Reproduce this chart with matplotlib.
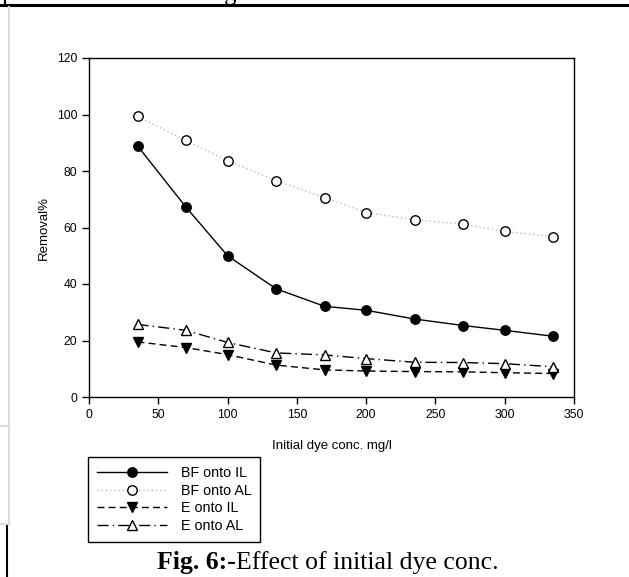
import matplotlib
matplotlib.use("Agg")
import matplotlib.pyplot as plt
from matplotlib.lines import Line2D

# initial dye concentration (mg/l)
conc = [35, 70, 100, 135, 170, 200, 235, 270, 300, 335]

# removal % for each system
bf_il = [88.9, 67.2, 50.0, 38.3, 32.1, 30.7, 27.6, 25.3, 23.6, 21.5]
bf_al = [99.3, 90.8, 83.6, 76.6, 70.6, 65.3, 62.7, 61.2, 58.6, 56.8]
e_il = [19.5, 17.5, 15.0, 11.3, 9.6, 9.2, 9.0, 8.9, 8.6, 8.3]
e_al = [25.7, 23.6, 19.3, 15.6, 14.9, 13.6, 12.3, 12.2, 11.8, 10.7]

labels = ["BF onto IL", "BF onto AL", "E onto IL", "E onto AL"]

W, H = 629, 577
plt.rcParams['font.family'] = ['Liberation Sans', 'DejaVu Sans']

fig = plt.figure(figsize=(W / 100, H / 100), dpi=100)
ax = fig.add_axes([89 / W, 1 - 397 / H, (574 - 89) / W, (397 - 58) / H])

ms = 6.8
ax.plot(conc, bf_il, color="black", lw=1, ls="-", marker="o", ms=ms,
        mfc="black", mec="black", label=labels[0])
ax.plot(conc, bf_al, color="#bbbbbb", lw=1, ls=(0, (1, 2)), marker="o", ms=ms,
        mfc="white", mec="black", mew=1, label=labels[1])
ax.plot(conc, e_il, color="black", lw=1, ls=(0, (5, 3)), marker="v", ms=ms,
        mfc="black", mec="black", label=labels[2])
ax.plot(conc, e_al, color="black", lw=1, ls=(0, (8, 3, 1, 3)), marker="^", ms=ms,
        mfc="white", mec="black", mew=1, label=labels[3])

ax.set_xlim(0, 350)
ax.set_ylim(0, 120)
ax.set_xticks(range(0, 351, 50))
ax.set_yticks(range(0, 121, 20))
ax.tick_params(direction="out", length=5, width=1, labelsize=8.8, top=False, right=False)
for s in ax.spines.values():
    s.set_linewidth(1)
ax.set_xlabel("Initial dye conc. mg/l", fontsize=9.5, labelpad=14)
ax.set_ylabel("Removal%", fontsize=9.5, labelpad=5)

fig.legend(loc="upper left", bbox_to_anchor=(88 / W, 1 - 457 / H), fontsize=10.3,
           frameon=True, fancybox=False, edgecolor="black", framealpha=1,
           handlelength=4.9, handletextpad=0.95, labelspacing=0.26, borderpad=0.62,
           borderaxespad=0, numpoints=1)

# caption under the chart
cap_y = 1 - 563 / H
t1 = fig.text(157 / W, cap_y, "Fig. 6:-", fontsize=18.5, fontweight="bold",
              family="Liberation Serif", va="center", ha="left")
fig.canvas.draw()
bb = t1.get_window_extent(fig.canvas.get_renderer())
fig.text(bb.x1 / W, cap_y, "Effect of initial dye conc.", fontsize=18.5,
         family="Liberation Serif", va="center", ha="left")

# page frame pieces around the figure
def pline(xs, ys, color="black", lw=2.0):
    fig.add_artist(Line2D([x / W for x in xs], [1 - y / H for y in ys],
                          color=color, lw=lw, transform=fig.transFigure))

pline([0, W], [5, 5], lw=2.2)
pline([5, 5], [0, 5], lw=1.5)
pline([7, 7], [525, H], lw=1.5)
pline([9, 9], [7, 524], color="#dcdcdc", lw=1.5)
pline([0, 9], [426, 426], color="#dcdcdc", lw=1.5)
pline([0, 9], [524, 524], color="#dcdcdc", lw=1.5)
fig.text(230 / W, 1.0, "g", fontsize=18, family="Liberation Serif",
         ha="center", va="baseline")

fig.savefig("out.png", dpi=100)
